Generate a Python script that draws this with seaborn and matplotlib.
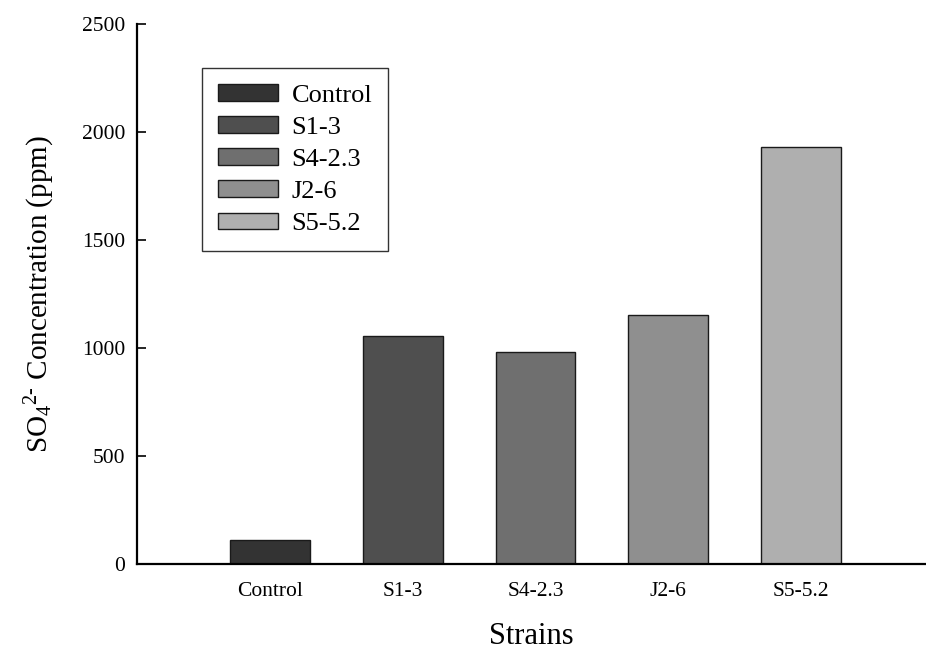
import matplotlib
matplotlib.use("Agg")
import matplotlib.pyplot as plt
import seaborn as sns
import pandas as pd

strains = ["Control", "S1-3", "S4-2.3", "J2-6", "S5-5.2"]
values = [111, 1056, 980, 1151, 1929]
colors = ["#333333", "#4f4f4f", "#6f6f6f", "#8f8f8f", "#afafaf"]
yticks = [0, 500, 1000, 1500, 2000, 2500]

sns.set_theme(style="white")
plt.rcParams["font.family"] = ["Liberation Serif", "DejaVu Serif"]
plt.rcParams["mathtext.fontset"] = "custom"
plt.rcParams["mathtext.rm"] = "Liberation Serif"
plt.rcParams["mathtext.it"] = "Liberation Serif:italic"
plt.rcParams["mathtext.default"] = "regular"

df = pd.DataFrame({"Strain": strains, "Value": values})

fig = plt.figure(figsize=(9.26, 6.53), dpi=100)
ax = fig.add_axes([137 / 926, 1 - 564 / 653, 1 - 137 / 926, (564 - 24) / 653])

sns.barplot(data=df, x="Strain", y="Value", hue="Strain", palette=colors,
            width=0.6, edgecolor="#1a1a1a", linewidth=1.0, saturation=1,
            legend=True, ax=ax)

ax.set_xlim(-1.0, 4.94)
ax.set_ylim(0, 2500)
ax.set_yticks(yticks)
ax.set_yticklabels([str(v) for v in yticks])

for s in ["top", "right"]:
    ax.spines[s].set_visible(False)
for s in ["left", "bottom"]:
    ax.spines[s].set_color("black")
    ax.spines[s].set_linewidth(1.6)

ax.tick_params(axis="y", direction="in", length=6.5, width=1.2, color="black",
               labelsize=15.5, pad=8.5, left=True, labelcolor="black")
ax.tick_params(axis="x", direction="in", length=3, width=1.0, color="black",
               labelsize=15.5, pad=13, bottom=True, labelcolor="black")

ax.set_xlabel("Strains", fontsize=22, labelpad=15, color="black")
ax.set_ylabel(r"SO$_4$$^{2\text{-}}$ Concentration (ppm)", fontsize=21,
              labelpad=18, color="black")

handles, labels = ax.get_legend_handles_labels()
leg = ax.legend(handles, labels, loc="upper left",
                bbox_to_anchor=((202 - 137) / 789, (564 - 68) / 540),
                borderaxespad=0, fancybox=False, frameon=True,
                edgecolor="black", fontsize=19, handlelength=2.27,
                handleheight=0.6, handletextpad=0.53, labelspacing=0.36,
                borderpad=0.6, title=None)
leg.get_frame().set_linewidth(1.0)
for t in leg.get_texts():
    t.set_color("black")

fig.savefig("out.png", dpi=100)
